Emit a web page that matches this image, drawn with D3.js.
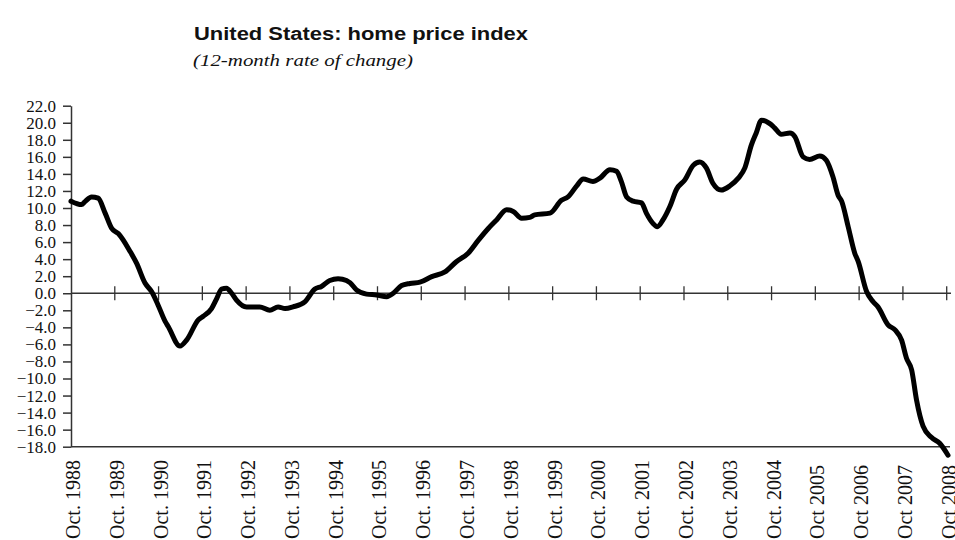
<!DOCTYPE html>
<html>
  <head>
    <meta charset="utf-8">
    <script src="https://d3js.org/d3.v7.min.js"></script>
    <style>
      body {margin: 0; background: #fff;}
      #yaxis path, #yaxis line {stroke: #333; stroke-width: 1.5;}
      #zeroline path, #zeroline line {stroke: #333; stroke-width: 1.3;}
      #series path {fill: none; stroke: #000; stroke-width: 5px; stroke-linejoin: round; stroke-linecap: round;}
    </style>
  </head>
  <body>
    <svg id="chart" width="955" height="540">
      <g id="titles"/>
      <g id="yaxis"/>
      <g id="zeroline"/>
      <g id="xlabels"/>
      <g id="series"/>
    </svg>
  </body>
  <script>
      // years elapsed since Oct. 1988 and the 12-month change (%)
      let years = [0, 0.24, 0.32, 0.47, 0.62, 0.78, 0.93, 1.08, 1.35, 1.5, 1.69, 1.84, 1.99, 2.15, 2.22,
          2.49, 2.64, 2.91, 3.02, 3.21, 3.33, 3.44, 3.55, 3.67, 3.78, 4.01, 4.31, 4.54, 4.73, 4.89,
          5.07, 5.34, 5.57, 5.72, 5.91, 6.1, 6.2, 6.37, 6.52, 6.75, 6.98, 7.21, 7.36, 7.55, 7.74,
          7.97, 8.24, 8.54, 8.8, 9.07, 9.3, 9.53, 9.72, 9.95, 10.1, 10.29, 10.48, 10.59, 10.94, 11.2,
          11.35, 11.55, 11.7, 11.92, 12.08, 12.31, 12.46, 12.57, 12.69, 12.84, 13.03, 13.14, 13.29, 13.39, 13.52,
          13.68, 13.83, 14.02, 14.21, 14.36, 14.51, 14.66, 14.85, 15.05, 15.24, 15.39, 15.54, 15.65, 15.77, 15.96,
          16.07, 16.22, 16.42, 16.53, 16.72, 16.87, 17.1, 17.25, 17.4, 17.52, 17.6, 17.75, 17.9, 17.98, 18.17,
          18.32, 18.43, 18.66, 18.82, 18.97, 19.08, 19.2, 19.31, 19.46, 19.65, 19.84, 20.03];
      let change = [10.8, 10.4, 10.75, 11.3, 11.15, 9.4, 7.6, 7.0, 4.9, 3.5, 1.2, 0.2, -1.4, -3.3, -3.9,
          -6.2, -5.5, -3.1, -2.7, -1.8, -0.6, 0.5, 0.6, 0.0, -0.8, -1.6, -1.6, -2.0, -1.6, -1.8,
          -1.6, -1.0, 0.5, 0.8, 1.5, 1.7, 1.65, 1.25, 0.4, -0.1, -0.2, -0.4, 0.0, 0.9, 1.15,
          1.3, 1.95, 2.5, 3.7, 4.7, 6.2, 7.6, 8.6, 9.8, 9.6, 8.8, 8.9, 9.2, 9.4, 10.9,
          11.3, 12.6, 13.4, 13.1, 13.5, 14.5, 14.3, 13.1, 11.3, 10.8, 10.6, 9.4, 8.2, 7.8, 8.6,
          10.2, 12.2, 13.3, 15.0, 15.4, 14.7, 12.9, 12.1, 12.6, 13.5, 14.7, 17.4, 18.8, 20.3, 19.9,
          19.4, 18.65, 18.8, 18.4, 16.0, 15.7, 16.1, 15.6, 13.7, 11.5, 10.8, 7.8, 4.7, 3.7, 0.2,
          -1.0, -1.6, -3.7, -4.3, -5.5, -7.6, -9.0, -12.5, -15.6, -16.9, -17.6, -19.0];
      let tickLabels = ["Oct. 1988", "Oct. 1989", "Oct. 1990", "Oct. 1991", "Oct. 1992", "Oct. 1993",
          "Oct. 1994", "Oct. 1995", "Oct. 1996", "Oct. 1997", "Oct. 1998", "Oct. 1999", "Oct. 2000",
          "Oct. 2001", "Oct. 2002", "Oct. 2003", "Oct. 2004", "Oct 2005", "Oct 2006", "Oct 2007", "Oct 2008"];
      let yTicks = [-18, -16, -14, -12, -10, -8, -6, -4, -2, 0, 2, 4, 6, 8, 10, 12, 14, 16, 18, 20, 22];
      let title = "United States: home price index";
      let subtitle = "(12-month rate of change)";

      let serif = "'Liberation Serif', 'Times New Roman', serif";
      let plot = {left: 71, right: 946.7, top: 105.7, bottom: 446.7};

      let x = d3.scaleLinear().domain([0, 20]).range([plot.left, plot.right]);
      let y = d3.scaleLinear().domain([-18, 22]).range([plot.bottom, plot.top]);

      // titles
      let titles = d3.select("#titles");
      titles.append("text").text(title)
          .attr("x", 194).attr("y", 40)
          .attr("textLength", 334).attr("lengthAdjust", "spacingAndGlyphs")
          .style("font-family", "'Liberation Sans', Arial, sans-serif")
          .style("font-weight", "bold").style("font-size", "17.5px").style("fill", "#111");
      titles.append("text").text(subtitle)
          .attr("x", 193).attr("y", 66)
          .attr("textLength", 220).attr("lengthAdjust", "spacingAndGlyphs")
          .style("font-family", serif)
          .style("font-style", "italic").style("font-size", "17.5px").style("fill", "#111");

      // y axis with outward ticks
      let yAxis = d3.select("#yaxis")
          .attr("transform", `translate(${plot.left},0)`)
          .call(d3.axisLeft(y).tickValues(yTicks).tickSize(8).tickPadding(7).tickSizeOuter(0)
              .tickFormat(d3.format(".1f")));
      yAxis.attr("font-family", null).attr("font-size", null);
      yAxis.selectAll("text")
          .style("font-family", serif).style("font-size", "17px").style("fill", "#111");

      // bottom frame line at -18
      yAxis.append("line")
          .attr("x1", 0).attr("x2", 950 - plot.left)
          .attr("y1", y(-18)).attr("y2", y(-18));

      // zero line with ticks crossing it
      let zero = d3.select("#zeroline").attr("transform", `translate(0,${y(0)})`);
      zero.append("line").attr("x1", plot.left).attr("x2", 951).attr("y1", 0).attr("y2", 0);
      zero.selectAll("line.tick").data(d3.range(1, tickLabels.length)).enter()
          .append("line").attr("class", "tick")
          .attr("x1", d => x(d)).attr("x2", d => x(d))
          .attr("y1", -7).attr("y2", 7);

      // rotated date labels
      d3.select("#xlabels").selectAll("text").data(tickLabels).enter()
          .append("text")
          .attr("transform", (d, i) => `translate(${x(i) + 2},539) rotate(-90)`)
          .attr("dy", "0.35em")
          .attr("text-anchor", "start")
          .style("font-family", serif).style("font-size", "20px").style("fill", "#111")
          .text(d => d);

      // the series
      let points = years.map((t, i) => [t, change[i]]);
      let lineGen = d3.line().x(d => x(d[0])).y(d => y(d[1])).curve(d3.curveMonotoneX);
      d3.select("#series").append("path").datum(points).attr("d", lineGen);
  </script>
</html>
